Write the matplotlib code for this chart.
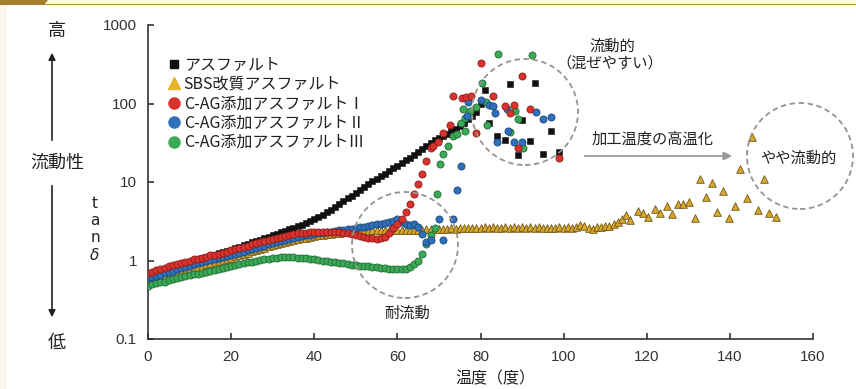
import matplotlib
matplotlib.use("Agg")
import matplotlib.pyplot as plt
from matplotlib.patches import Ellipse, Rectangle, Polygon
from matplotlib.lines import Line2D

plt.rcParams['font.family'] = ['Noto Sans CJK JP', 'DejaVu Sans']

# ---- data (温度 [度], tanδ) ----
# アスファルト
asp_t = list(range(0, 80)) + [80, 81, 82, 84, 86, 87, 89, 90, 92, 93, 95, 97, 99]
asp_v = [0.66, 0.68, 0.71, 0.74, 0.77, 0.80, 0.83, 0.86, 0.89, 0.92,
         0.95, 0.99, 1.03, 1.07, 1.11, 1.15, 1.19, 1.24, 1.28, 1.33,
         1.38, 1.44, 1.50, 1.56, 1.63, 1.70, 1.77, 1.85, 1.93, 2.01,
         2.10, 2.19, 2.28, 2.38, 2.49, 2.60, 2.72, 2.85, 3.00, 3.15,
         3.35, 3.60, 3.85, 4.15, 4.45, 4.80, 5.20, 5.70, 6.20, 6.70,
         7.20, 7.90, 8.60, 9.40, 10.2, 11.0, 11.9, 12.8, 13.9, 15.0,
         16.2, 17.4, 18.8, 20.3, 22.0, 23.8, 26.0, 28.5, 31.5, 34.0,
         36.0, 38.5, 41.0, 44.0, 48.0, 52.0, 57.0, 63.0, 70.0, 78.0,
         100, 147, 57, 38, 34, 178, 22, 61, 33, 185, 23, 45, 24]

# SBS改質アスファルト
sbs_t = list(range(0, 113)) + [113, 114, 115, 116, 118, 119, 120.3, 122, 123.2, 124.9,
                               126, 127.5, 128.7, 130.2, 131.6, 132.8, 134.3, 135.7, 137,
                               138.4, 139.8, 141.2, 142.5, 144, 145.3, 146.8, 148.2, 149.5, 151]
sbs_v = [0.53, 0.55, 0.57, 0.59, 0.61, 0.63, 0.66, 0.68, 0.71, 0.74,
         0.77, 0.80, 0.83, 0.86, 0.89, 0.92, 0.95, 0.98, 1.01, 1.05,
         1.09, 1.13, 1.17, 1.21, 1.26, 1.31, 1.36, 1.41, 1.46, 1.51,
         1.56, 1.61, 1.66, 1.71, 1.76, 1.81, 1.86, 1.91, 1.96, 2.01,
         2.05, 2.09, 2.13, 2.17, 2.20, 2.23, 2.26, 2.29, 2.32, 2.35,
         2.37, 2.38, 2.40, 2.41, 2.42, 2.42, 2.43, 2.44, 2.44, 2.45,
         2.45, 2.46, 2.46, 2.47, 2.47, 2.48, 2.48, 2.49, 2.49, 2.50,
         2.50, 2.52, 2.55, 2.58, 2.55, 2.60, 2.57, 2.62, 2.58, 2.63,
         2.60, 2.64, 2.60, 2.66, 2.58, 2.62, 2.66, 2.60, 2.65, 2.62,
         2.66, 2.60, 2.65, 2.62, 2.66, 2.60, 2.58, 2.62, 2.60, 2.65,
         2.60, 2.64, 2.62, 2.70, 2.80, 2.72, 2.62, 2.55, 2.68, 2.70,
         2.75, 2.72, 2.90,
         3.1, 3.4, 3.75, 3.3, 4.25, 4.0, 3.6, 4.55, 4.0, 5.0,
         3.9, 5.2, 5.2, 5.6, 3.46, 11, 6.4, 9.8, 4.2,
         7.6, 3.46, 4.9, 14.8, 6.2, 37, 4.4, 11, 4.05, 3.55]

# C-AG添加アスファルトⅠ
ag1_t = list(range(0, 68)) + [68, 68.6, 69.8, 71, 72.7, 73.4, 75.5, 76.5, 77.7, 79,
                              80, 83, 86, 87, 88, 89, 90, 92, 99]
ag1_v = [0.69, 0.72, 0.75, 0.78, 0.81, 0.84, 0.87, 0.90, 0.93, 0.96,
         1.00, 1.03, 1.06, 1.09, 1.12, 1.16, 1.19, 1.22, 1.26, 1.30,
         1.35, 1.40, 1.45, 1.50, 1.55, 1.60, 1.66, 1.72, 1.78, 1.84,
         1.90, 1.96, 2.02, 2.08, 2.13, 2.17, 2.21, 2.24, 2.26, 2.28,
         2.29, 2.30, 2.30, 2.30, 2.30, 2.29, 2.28, 2.26, 2.23, 2.19,
         2.14, 2.08, 2.02, 1.96, 1.92, 1.90, 1.92, 2.02, 2.25, 2.60,
         2.95, 3.40, 4.10, 5.20, 7.00, 9.30, 12.8, 18.3,
         27.5, 29, 32, 41.5, 54, 126, 119, 122, 126, 41.5,
         332, 126, 94, 75, 97, 27, 225, 84, 20]

# C-AG添加アスファルトⅡ
ag2_t = list(range(0, 68)) + [68, 70, 71, 73.4, 74.3, 75.3, 76.7, 77, 80, 82,
                              83, 83.5, 84, 86.3, 86.6, 88, 90, 93.4, 95, 97]
ag2_v = [0.59, 0.61, 0.64, 0.66, 0.69, 0.71, 0.74, 0.77, 0.80, 0.83,
         0.86, 0.89, 0.92, 0.95, 0.98, 1.01, 1.04, 1.07, 1.10, 1.14,
         1.18, 1.22, 1.26, 1.30, 1.35, 1.40, 1.45, 1.50, 1.55, 1.60,
         1.66, 1.72, 1.78, 1.84, 1.90, 1.95, 2.00, 2.05, 2.10, 2.14,
         2.18, 2.22, 2.26, 2.30, 2.34, 2.38, 2.42, 2.46, 2.50, 2.55,
         2.60, 2.65, 2.70, 2.76, 2.82, 2.88, 2.94, 3.00, 3.08, 3.20,
         3.40, 3.10, 2.90, 2.80, 2.90, 2.70, 2.20, 1.70,
         1.8, 3.4, 1.8, 3.4, 8, 16, 70, 103, 112, 97,
         94, 76, 32, 86, 45, 32, 32, 79, 64, 68]

# C-AG添加アスファルトⅢ
ag3_t = list(range(0, 70)) + [69.5, 70.3, 71, 72.2, 73.4, 74.3, 75.3, 75.8, 76.3, 76.3,
                              77.2, 77.5, 79, 80.4, 81.3, 81.6, 84.2, 87, 88.3, 89,
                              90.2, 92.4]
ag3_v = [0.48, 0.50, 0.51, 0.53, 0.54, 0.56, 0.58, 0.59, 0.61, 0.63,
         0.65, 0.67, 0.68, 0.70, 0.72, 0.74, 0.76, 0.78, 0.80, 0.82,
         0.85, 0.87, 0.90, 0.92, 0.95, 0.97, 1.00, 1.02, 1.04, 1.06,
         1.08, 1.09, 1.10, 1.10, 1.10, 1.10, 1.09, 1.08, 1.07, 1.06,
         1.04, 1.02, 1.00, 0.98, 0.96, 0.95, 0.93, 0.92, 0.90, 0.88,
         0.87, 0.86, 0.85, 0.84, 0.83, 0.82, 0.81, 0.80, 0.79, 0.78,
         0.77, 0.77, 0.79, 0.83, 0.90, 1.00, 1.22, 1.60, 2.10, 2.60,
         7.1, 17, 23, 29, 39, 41, 57, 86, 45, 66,
         70, 81, 89, 180, 103, 54, 433, 43, 81, 64,
         27, 410]

labels = ['アスファルト', 'SBS改質アスファルト', 'C-AG添加アスファルトⅠ',
          'C-AG添加アスファルトⅡ', 'C-AG添加アスファルトⅢ']
x_ticks = [0, 20, 40, 60, 80, 100, 120, 140, 160]
y_ticks = [0.1, 1, 10, 100, 1000]
y_ticklabels = ['0.1', '1', '10', '100', '1000']

W, H = 856, 389
fig = plt.figure(figsize=(W / 100, H / 100), dpi=100)

def fx(x):
    return x / W

def fy(y):
    return 1 - y / H

# page decoration
fig.patches.append(Rectangle((0, 0), fx(7), 1, transform=fig.transFigure,
                             facecolor='#faf6ec', edgecolor='none', zorder=0))
fig.patches.append(Rectangle((0, fy(4)), 1, 4 / H, transform=fig.transFigure,
                             facecolor='#faf6ec', edgecolor='none', zorder=0))
fig.patches.append(Rectangle((0, fy(5)), 1, 1.5 / H, transform=fig.transFigure,
                             facecolor='#b8922e', edgecolor='none', zorder=1))
fig.patches.append(Polygon([(0, 1), (fx(48), 1), (fx(44), fy(5)), (0, fy(5))],
                           closed=True, transform=fig.transFigure,
                           facecolor='#a5802c', edgecolor='none', zorder=1))

ax = fig.add_axes([fx(148), fy(339), (813 - 148) / W, (339 - 25) / H])
ax.set_yscale('log')
ax.set_xlim(0, 160)
ax.set_ylim(0.1, 1000)

ax.scatter(sbs_t, sbs_v, marker='^', s=30, facecolor='#d9a82a', edgecolor='#6e5618',
           linewidths=0.6, zorder=2)
ax.scatter(asp_t, asp_v, marker='s', s=20, facecolor='#111111', edgecolor='#111111',
           linewidths=0.4, zorder=3)
ax.scatter(ag3_t, ag3_v, marker='o', s=26, facecolor='#3caa55', edgecolor='#1f6b35',
           linewidths=0.6, zorder=4)
ax.scatter(ag2_t, ag2_v, marker='o', s=26, facecolor='#2f70bb', edgecolor='#1a467e',
           linewidths=0.6, zorder=5)
ax.scatter(ag1_t, ag1_v, marker='o', s=26, facecolor='#d8332d', edgecolor='#8c1d1a',
           linewidths=0.6, zorder=6)

for s in ['top', 'right']:
    ax.spines[s].set_visible(False)
for s in ['left', 'bottom']:
    ax.spines[s].set_color('#333333')
    ax.spines[s].set_linewidth(1.2)

ax.set_xticks(x_ticks)
ax.set_xticklabels([str(t) for t in x_ticks], family='Liberation Sans', fontsize=11,
                   color='#333333')
ax.set_yticks(y_ticks)
ax.set_yticklabels(y_ticklabels, family='Liberation Sans', fontsize=11, color='#333333')
ax.yaxis.set_minor_locator(matplotlib.ticker.NullLocator())
ax.tick_params(direction='in', length=4, width=1.2, color='#333333', pad=8)

handles = [
    Line2D([], [], ls='', marker='s', ms=6, mfc='#111111', mec='#111111'),
    Line2D([], [], ls='', marker='^', ms=8, mfc='#e8b32a', mec='#e8b32a'),
    Line2D([], [], ls='', marker='o', ms=8, mfc='#d8332d', mec='#d8332d'),
    Line2D([], [], ls='', marker='o', ms=8, mfc='#2f70bb', mec='#2f70bb'),
    Line2D([], [], ls='', marker='o', ms=8, mfc='#3caa55', mec='#3caa55'),
]
ax.legend(handles, labels, loc='upper left', bbox_to_anchor=(0.02, 0.92),
          frameon=False, fontsize=11.5, handlelength=0.8, handletextpad=0.2,
          labelspacing=0.15, borderaxespad=0, labelcolor='#231f20')

txt = '#231f20'
# x axis title
fig.text(fx(495), fy(379), '温度（度）', fontsize=11.5, ha='center', va='center', color=txt)

# left side flow indicator
fig.text(fx(57), fy(31), '高', fontsize=13, ha='center', va='center', color=txt)
fig.text(fx(57), fy(163), '流動性', fontsize=13, ha='center', va='center', color=txt)
fig.text(fx(57), fy(343), '低', fontsize=13, ha='center', va='center', color=txt)
fig.patches.append(matplotlib.patches.FancyArrowPatch(
    (fx(52), fy(143)), (fx(52), fy(50)), transform=fig.transFigure,
    arrowstyle='-|>,head_length=4,head_width=2', color='#222222', lw=1.2))
fig.patches.append(matplotlib.patches.FancyArrowPatch(
    (fx(52), fy(183)), (fx(52), fy(320)), transform=fig.transFigure,
    arrowstyle='-|>,head_length=4,head_width=2', color='#222222', lw=1.2))
for ch, yy in [('t', 203), ('a', 220), ('n', 237)]:
    fig.text(fx(95), fy(yy), ch, fontsize=11, ha='center', va='center', color=txt,
             family='DejaVu Sans')
fig.text(fx(95), fy(255), 'δ', fontsize=11, ha='center', va='center', color=txt,
         family='DejaVu Sans', style='italic')

# dashed circles
for cx, cy in [(525, 112), (405, 245), (800, 156)]:
    fig.patches.append(Ellipse((fx(cx), fy(cy)), 106 / W, 106 / H,
                               transform=fig.transFigure, fill=False,
                               edgecolor='#9b918c', lw=1.3, ls=(0, (3, 2)), zorder=1))

fig.text(fx(612), fy(46), '流動的', fontsize=11, ha='center', va='center', color=txt)
fig.text(fx(610), fy(63), '（混ぜやすい）', fontsize=11, ha='center', va='center', color=txt)
fig.text(fx(407), fy(313), '耐流動', fontsize=11, ha='center', va='center', color=txt)
fig.text(fx(798), fy(158), 'やや流動的', fontsize=11, ha='center', va='center', color=txt)
fig.text(fx(653), fy(139), '加工温度の高温化', fontsize=11, ha='center', va='center', color=txt)
fig.patches.append(matplotlib.patches.FancyArrowPatch(
    (fx(582), fy(156)), (fx(735), fy(156)), transform=fig.transFigure,
    arrowstyle='-|>,head_length=5,head_width=2.5', color='#9a9a9a', lw=1.3))

fig.savefig('out.png', dpi=100)
